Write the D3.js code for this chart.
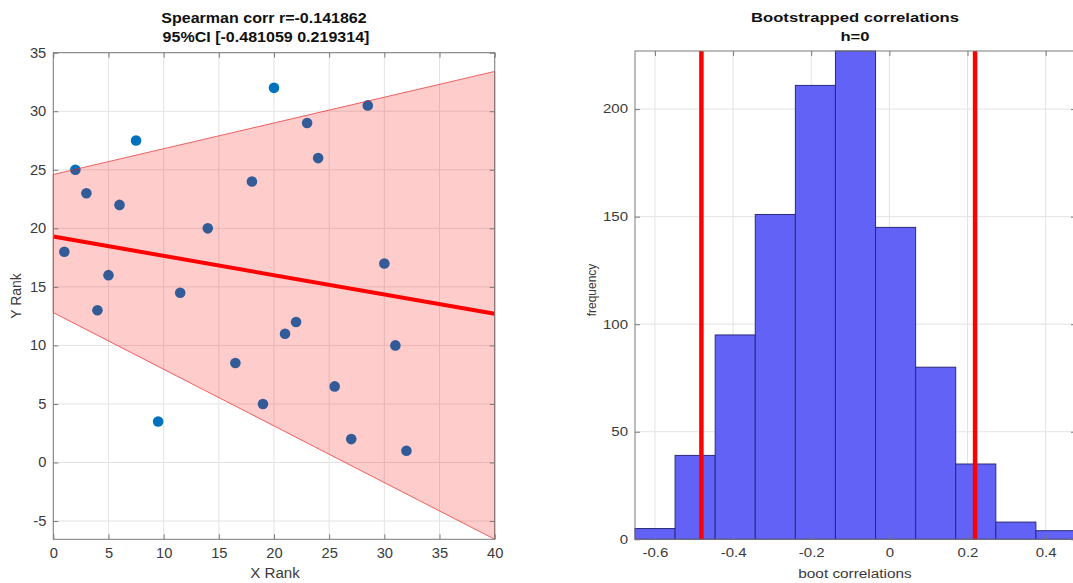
<!DOCTYPE html>
<html>
<head>
<meta charset="utf-8">
<script src="https://cdn.jsdelivr.net/npm/d3@7"></script>
<style>
body { margin: 0; background: #fff; }
svg text { font-family: "Liberation Sans", Arial, sans-serif; }
</style>
</head>
<body>
<script>
// scatter of ranks
var rankX = [1, 2, 3, 4, 5, 6, 7.5, 9.5, 11.5, 14, 16.5, 18, 19, 20, 21, 22, 23, 24, 25.5, 27, 28.5, 30, 31, 32];
var rankY = [18, 25, 23, 13, 16, 22, 27.5, 3.5, 14.5, 20, 8.5, 24, 5, 32, 11, 12, 29, 26, 6.5, 2, 30.5, 17, 10, 1];
// fitted line and confidence band, at x = 0 and x = 40
var fitX = [0, 40];
var fitY = [19.3, 12.7];
var ciUpper = [24.6, 33.4];
var ciLower = [12.8, -6.56];
var xTicksL = [0, 5, 10, 15, 20, 25, 30, 35, 40];
var yTicksL = [-5, 0, 5, 10, 15, 20, 25, 30, 35];

// bootstrap histogram
var binEdges = [-0.651, -0.5484, -0.4458, -0.3432, -0.2406, -0.138, -0.0354, 0.0672, 0.1698, 0.2724, 0.375, 0.4776];
var binCounts = [5, 39, 95, 151, 211, 227, 145, 80, 35, 8, 4];
var ciBounds = [-0.481059, 0.219314];
var xTicksR = [-0.6, -0.4, -0.2, 0, 0.2, 0.4];
var yTicksR = [0, 50, 100, 150, 200];

var width = 1073;
var height = 583;
var gridColor = "#e3e3e3";
var boxColor = "#7a7a7a";
var labelColor = "#3a3a3a";

var svg = d3.select("body").append("svg").attr("width", width).attr("height", height);

// the picture is stretched sideways, so the text is too
function label(g, x, y, str, fs, sx, bold, rot) {
	var t = "translate(" + x + "," + y + ")" + (rot ? " rotate(-90)" : " scale(" + sx + ",1)");
	return g.append("text").attr("transform", t).attr("text-anchor", "middle")
		.style("font-size", fs + "px").style("font-weight", bold ? "bold" : "normal")
		.attr("fill", bold ? "#111" : labelColor).text(str);
}

function drawGrid(g, x, y, xt, yt) {
	var x0 = x.range()[0], x1 = x.range()[1], y0 = y.range()[0], y1 = y.range()[1];
	g.append("g").selectAll("line").data(xt).enter().append("line")
		.attr("x1", function(d){ return x(d); }).attr("x2", function(d){ return x(d); })
		.attr("y1", y0).attr("y2", y1)
		.attr("stroke", gridColor).attr("stroke-width", 1);
	g.append("g").selectAll("line").data(yt).enter().append("line")
		.attr("y1", function(d){ return y(d); }).attr("y2", function(d){ return y(d); })
		.attr("x1", x0).attr("x2", x1)
		.attr("stroke", gridColor).attr("stroke-width", 1);
}

function drawAxes(g, x, y, xt, yt, fs, sx) {
	var x0 = x.range()[0], x1 = x.range()[1], y0 = y.range()[0], y1 = y.range()[1];
	var fmt = function(d){ return d3.format("")(d).replace("\u2212", "-"); };
	var bottom = g.append("g").attr("transform", "translate(0," + y0 + ")")
		.call(d3.axisBottom(x).tickValues(xt).tickSizeInner(-5).tickSizeOuter(0).tickPadding(9).tickFormat(fmt));
	var top = g.append("g").attr("transform", "translate(0," + y1 + ")")
		.call(d3.axisTop(x).tickValues(xt).tickSizeInner(-5).tickSizeOuter(0).tickFormat(""));
	var left = g.append("g").attr("transform", "translate(" + x0 + ",0)")
		.call(d3.axisLeft(y).tickValues(yt).tickSizeInner(-5).tickSizeOuter(0).tickPadding(7).tickFormat(fmt));
	var right = g.append("g").attr("transform", "translate(" + x1 + ",0)")
		.call(d3.axisRight(y).tickValues(yt).tickSizeInner(-5).tickSizeOuter(0).tickFormat(""));
	[bottom, top, left, right].forEach(function(a) {
		a.select(".domain").remove();
		a.selectAll("line").attr("stroke", boxColor);
		a.selectAll("text").attr("fill", labelColor).style("font-size", fs + "px")
			.attr("transform", "scale(" + sx + ",1)");
	});
	bottom.selectAll("text").attr("x", function(){ return 0; });
	left.selectAll("text").attr("x", -7 / sx);
	g.append("rect").attr("x", x0).attr("y", y1).attr("width", x1 - x0).attr("height", y0 - y1)
		.attr("fill", "none").attr("stroke", boxColor).attr("stroke-width", 1);
}

// ---------- left: rank scatter ----------
var xL = d3.scaleLinear().domain([0, 40]).range([53.3, 494.7]);
var yL = d3.scaleLinear().domain([-6.56, 35]).range([539.3, 52.7]);
var gl = svg.append("g");
drawGrid(gl, xL, yL, xTicksL, yTicksL);

gl.append("g").selectAll("circle").data(rankX).enter().append("circle")
	.attr("cx", function(d){ return xL(d); })
	.attr("cy", function(d, i){ return yL(rankY[i]); })
	.attr("r", 5.3)
	.attr("fill", "#0072BD");

var band = fitX.map(function(d, i){ return [d, ciUpper[i]]; })
	.concat(fitX.map(function(d, i){ return [d, ciLower[i]]; }).reverse());
gl.append("path").datum(band)
	.attr("d", d3.line().x(function(d){ return xL(d[0]); }).y(function(d){ return yL(d[1]); }).curve(d3.curveLinearClosed))
	.attr("fill", "rgba(255,0,0,0.2)")
	.attr("stroke", "rgba(230,40,40,0.7)").attr("stroke-width", 1);

gl.append("path").datum(fitX.map(function(d, i){ return [d, fitY[i]]; }))
	.attr("d", d3.line().x(function(d){ return xL(d[0]); }).y(function(d){ return yL(d[1]); }))
	.attr("fill", "none").attr("stroke", "#ff0000").attr("stroke-width", 4);

// bottom axis texts sit at x=0 in each tick group, so the stretch keeps them centred
drawAxes(gl, xL, yL, xTicksL, yTicksL, 14, 1.05);

label(gl, 264, 23, "Spearman corr r=-0.141862", 15, 1.07, true);
label(gl, 266, 42, "95%CI [-0.481059 0.219314]", 15, 1.07, true);
label(gl, 275, 578, "X Rank", 14, 1.08, false);
label(gl, 21, 296, "Y Rank", 14, 1, false, true);

// ---------- right: bootstrap histogram ----------
var xR = d3.scaleLinear().domain([-0.651, 0.4776]).range([635, 1076]);
var yR = d3.scaleLinear().domain([0, 227]).range([539.3, 51]);
var gr = svg.append("g");
drawGrid(gr, xR, yR, xTicksR, yTicksR);

gr.append("g").selectAll("rect").data(binCounts).enter().append("rect")
	.attr("x", function(d, i){ return xR(binEdges[i]); })
	.attr("width", function(d, i){ return xR(binEdges[i + 1]) - xR(binEdges[i]); })
	.attr("y", function(d){ return yR(d); })
	.attr("height", function(d){ return yR(0) - yR(d); })
	.attr("fill", "#6262f6").attr("stroke", "#2a2a7a").attr("stroke-width", 1);

gr.append("g").selectAll("line").data(ciBounds).enter().append("line")
	.attr("x1", function(d){ return xR(d); }).attr("x2", function(d){ return xR(d); })
	.attr("y1", yR(0)).attr("y2", yR(227))
	.attr("stroke", "#ff0000").attr("stroke-width", 4.5);

drawAxes(gr, xR, yR, xTicksR, yTicksR, 12, 1.25);

label(gr, 855, 22, "Bootstrapped correlations", 13, 1.28, true);
label(gr, 855, 41, "h=0", 13, 1.28, true);
label(gr, 855, 578, "boot correlations", 12, 1.28, false);
label(gr, 596, 290, "frequency", 12, 1, false, true);
</script>
</body>
</html>
